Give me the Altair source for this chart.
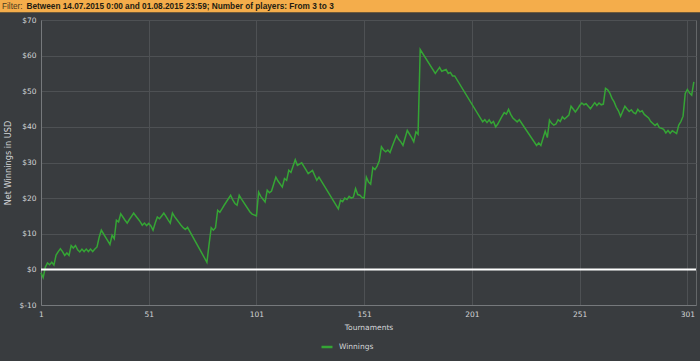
import altair as alt
import pandas as pd

# ---- data ----
tournaments = [1, 2, 3, 4, 5, 6, 7, 8, 9, 10, 11, 12, 13, 14, 15, 16, 17, 18, 19, 20,
               21, 22, 23, 24, 25, 26, 27, 28, 29, 30, 31, 32, 33, 34, 35, 36, 37, 38, 39, 40,
               41, 42, 43, 44, 45, 46, 47, 48, 49, 50, 51, 52, 53, 54, 55, 56, 57, 58, 59, 60,
               61, 62, 63, 64, 65, 66, 67, 68, 69, 78, 79, 80, 81, 82, 83, 84, 85, 86, 89, 90,
               91, 92, 93, 94, 98, 99, 101, 102, 103, 105, 106, 107, 108, 110, 111, 113, 114, 115, 116, 117,
               119, 120, 122, 123, 124, 125, 127, 129, 130, 139, 140, 141, 142, 143, 144, 145, 146, 147, 148, 149,
               150, 151, 152, 153, 154, 155, 156, 157, 158, 159, 160, 161, 162, 163, 164, 166, 167, 168, 169, 171,
               172, 173, 174, 175, 176, 177, 184, 186, 187, 189, 190, 191, 192, 193, 206, 207, 208, 209, 210, 211,
               212, 213, 215, 216, 217, 218, 219, 220, 222, 223, 231, 232, 233, 235, 236, 237, 238, 239, 240, 241,
               242, 243, 244, 246, 247, 248, 249, 250, 251, 252, 253, 254, 255, 256, 258, 259, 260, 261, 262, 263,
               264, 265, 266, 267, 268, 269, 270, 272, 273, 274, 275, 276, 277, 278, 279, 280, 281, 283, 284, 286,
               287, 288, 289, 290, 291, 292, 293, 294, 295, 296, 297, 298, 299, 300, 301, 302, 303, 304]
winnings = [-1.0, -2.3, 0.6, 1.8, 1.3, 2.0, 1.2, 4.0, 5.0, 5.8, 5.0, 3.9, 4.6, 3.9, 6.7, 6.0, 6.7, 5.5, 4.9, 5.7,
            5.0, 5.7, 5.0, 5.7, 5.0, 5.7, 6.3, 9.0, 11.0, 10.0, 9.0, 8.0, 7.0, 9.6, 8.6, 13.8, 13.3, 15.6, 14.7, 13.8,
            13.0, 14.0, 14.9, 15.8, 15.0, 14.2, 13.4, 12.4, 13.0, 12.3, 12.9, 12.2, 11.0, 13.0, 14.7, 14.2, 15.0, 15.8, 14.9, 13.9,
            13.0, 15.8, 14.8, 14.0, 13.2, 12.4, 11.7, 11.2, 11.8, 2.0, 7.0, 11.7, 11.0, 11.7, 16.6, 16.0, 17.0, 18.0, 20.8, 19.5,
            18.5, 18.0, 20.8, 19.8, 16.1, 15.5, 15.0, 21.7, 20.5, 18.9, 22.2, 21.5, 22.0, 25.9, 24.8, 23.1, 25.5, 25.0, 27.8, 27.2,
            30.8, 29.2, 29.9, 28.9, 27.9, 26.9, 27.8, 25.0, 25.9, 17.0, 19.4, 19.0, 20.0, 19.6, 20.5, 20.0, 20.3, 22.7, 21.0, 20.8,
            20.2, 20.0, 25.9, 24.5, 23.9, 28.6, 28.0, 29.0, 30.5, 34.4, 33.5, 33.0, 33.5, 32.8, 34.5, 37.6, 36.5, 35.8, 34.8, 39.0,
            38.0, 37.0, 35.8, 38.6, 37.9, 61.7, 55.0, 56.7, 55.6, 56.1, 55.0, 55.3, 54.3, 54.3, 41.4, 42.0, 41.2, 42.0, 41.0, 41.5,
            40.0, 40.8, 43.0, 44.0, 43.6, 44.9, 43.5, 42.5, 41.4, 42.0, 34.8, 35.5, 34.8, 38.8, 37.0, 41.9, 41.0, 40.5, 40.8, 42.0,
            41.5, 42.8, 42.2, 43.3, 45.8, 45.0, 44.2, 45.0, 46.0, 46.7, 46.2, 46.5, 45.8, 45.1, 46.8, 46.0, 46.7, 46.2, 46.4, 50.8,
            50.4, 49.5, 48.0, 47.0, 45.5, 44.5, 43.0, 45.8, 45.0, 44.3, 44.8, 44.0, 43.7, 44.9, 44.2, 44.5, 43.5, 42.5, 41.5, 40.4,
            40.9, 39.8, 39.6, 39.3, 38.3, 39.0, 38.2, 38.9, 38.5, 38.1, 40.5, 41.5, 43.0, 49.4, 50.5, 49.5, 48.9, 52.6]
series_name = "Winnings"
x_ticks = [1, 51, 101, 151, 201, 251, 301]
y_ticks = [-10, 0, 10, 20, 30, 40, 50, 60, 70]
header_prefix = "Filter:"
header_text = "Between 14.07.2015 0:00 and 01.08.2015 23:59; Number of players: From 3 to 3"
x_title = "Tournaments"
y_title = "Net Winnings in USD"

df = pd.DataFrame({"t": tournaments, "w": winnings, "s": [series_name] * len(tournaments)})
one = pd.DataFrame({"k": [0]})

BG = "#393c3f"
TXT = "#d3d5d7"
FONT = "DejaVu Sans"

W, H = 655, 285

x_scale = alt.Scale(domain=[1, 305], nice=False, zero=False)
y_scale = alt.Scale(domain=[-10, 70], nice=False, zero=False)

y_axis = alt.Axis(values=y_ticks, title=y_title, labelExpr="'$' + datum.value",
                  labelFlush=False, labelOverlap=False, tickCount=9,
                  titleX=-33, titleY=H / 2, titleAngle=-90, titleAlign="center",
                  titleBaseline="middle", titleFontSize=8.2)

line = alt.Chart(df).mark_line(strokeWidth=1.5, strokeJoin="miter").encode(
    x=alt.X("t:Q", scale=x_scale,
            axis=alt.Axis(values=x_ticks, title=x_title, format="d", titleY=18,
                          titleBaseline="top", labelFlush=False, labelOverlap=False)),
    y=alt.Y("w:Q", scale=y_scale, axis=y_axis),
    color=alt.Color("s:N", scale=alt.Scale(range=["#35a535"]),
                    legend=alt.Legend(orient="none", legendX=279, legendY=320, title=None,
                                      symbolType="stroke", symbolSize=121, symbolStrokeWidth=2.5,
                                      labelColor=TXT, labelFont=FONT, labelFontSize=7.5,
                                      padding=0, labelOffset=5)),
)

zero = alt.Chart(one).mark_rule(color="#ffffff", strokeWidth=2).encode(
    y=alt.Y("z:Q", scale=y_scale, axis=y_axis)
).transform_calculate(z="0")

header = alt.Chart(one).mark_rect(color="#f4ad4b").encode(
    x=alt.value(-41), x2=alt.value(W + 4), y=alt.value(-20), y2=alt.value(-8)
)
header_line = alt.Chart(one).mark_rule(color="#6e5a3a", strokeWidth=1).encode(
    x=alt.value(-41), x2=alt.value(W + 4), y=alt.value(-7.5)
)
h1 = alt.Chart(one).mark_text(text=header_prefix, align="left", baseline="alphabetic",
                              font="Liberation Sans", fontSize=8.2, color="#4a3a20").encode(
    x=alt.value(-39), y=alt.value(-11)
)
h2 = alt.Chart(one).mark_text(text=header_text, align="left", baseline="alphabetic",
                              font="Liberation Sans", fontWeight="bold", fontSize=8.25,
                              color="#231c12").encode(
    x=alt.value(-14.5), y=alt.value(-11)
)

chart = alt.layer(header, header_line, h1, h2, line, zero).properties(
    width=W, height=H,
    autosize=alt.AutoSizeParams(type="none"),
    padding={"left": 41, "top": 20, "right": 4, "bottom": 56},
    background=BG,
).configure_view(
    stroke="#646769", strokeWidth=1, fill=BG
).configure_axis(
    gridColor="#4e5154", gridWidth=1, domainColor="#76797c", domainWidth=1,
    ticks=False, labelColor=TXT, titleColor=TXT, labelFont=FONT, titleFont=FONT,
    labelFontSize=7.5, titleFontSize=7.5, titleFontWeight="normal", labelPadding=5,
)

chart.save("out.html", embed_options={"renderer": "svg", "actions": False})
